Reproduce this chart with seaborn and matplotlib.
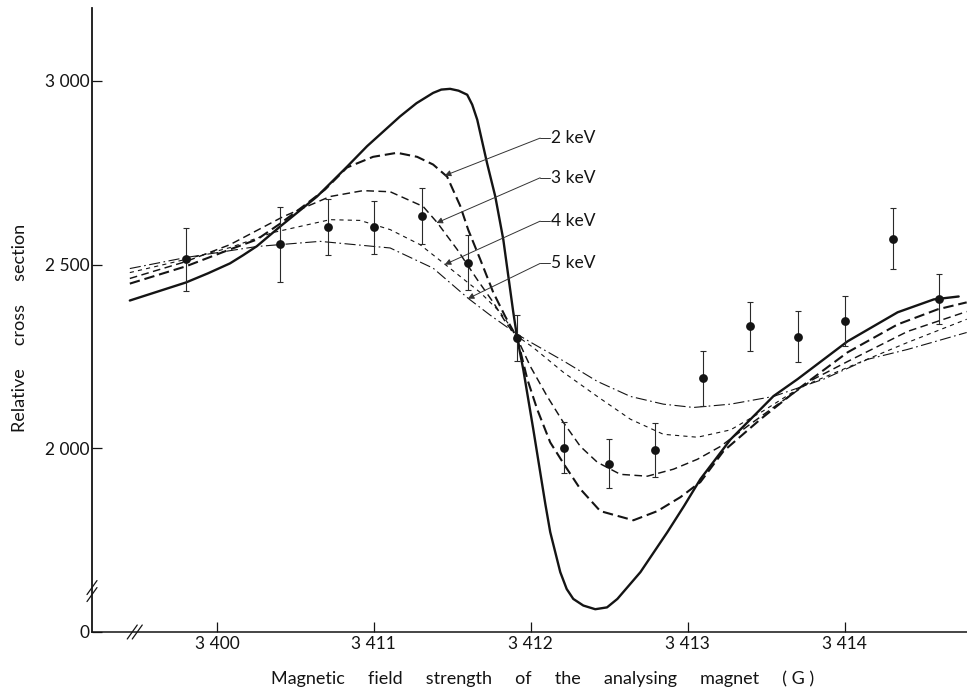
import matplotlib
matplotlib.use("Agg")
import matplotlib.pyplot as plt
import seaborn as sns

# ---------------- data ----------------
field_pts = [3409.80, 3410.40, 3410.71, 3411.00, 3411.31, 3411.60, 3411.91, 3412.21,
             3412.50, 3412.79, 3413.10, 3413.40, 3413.70, 3414.00, 3414.31, 3414.60]
sigma_pts = [2514, 2555, 2603, 2601, 2633, 2505, 2300, 2002,
             1958, 1995, 2190, 2332, 2304, 2346, 2570, 2405]
sigma_err = [85, 102, 76, 72, 76, 75, 62, 70, 66, 73, 75, 66, 69, 68, 83, 68]

x_solid = [3409.445, 3409.802, 3409.943, 3410.083, 3410.166, 3410.255, 3410.402, 3410.638,
           3410.829, 3410.957, 3411.167, 3411.272, 3411.378, 3411.430, 3411.486, 3411.540,
           3411.595, 3411.627, 3411.659, 3411.722, 3411.774, 3411.825, 3411.888, 3411.914,
           3411.952, 3412.016, 3412.093, 3412.124, 3412.188, 3412.229, 3412.271, 3412.335,
           3412.411, 3412.486, 3412.552, 3412.699, 3412.871, 3412.977, 3413.081, 3413.273,
           3413.445, 3413.547, 3413.700, 3414.019, 3414.338, 3414.568, 3414.727]
y_solid = [2402, 2451, 2476, 2503, 2525, 2550, 2603, 2685,
           2766, 2822, 2903, 2939, 2967, 2976, 2978, 2973,
           2962, 2935, 2894, 2775, 2685, 2568, 2372, 2299,
           2215, 2052, 1848, 1772, 1663, 1617, 1590, 1572,
           1562, 1567, 1590, 1663, 1772, 1843, 1916, 2024,
           2098, 2142, 2188, 2291, 2370, 2405, 2413]

x_2kev = [3409.445, 3409.802, 3410.083, 3410.255, 3410.402, 3410.549, 3410.689, 3410.829,
          3410.995, 3411.148, 3411.276, 3411.378, 3411.467, 3411.550, 3411.601, 3411.678,
          3411.761, 3411.837, 3411.914, 3411.978, 3412.041, 3412.124, 3412.220, 3412.316,
          3412.443, 3412.654, 3412.807, 3412.954, 3413.081, 3413.228, 3413.464, 3413.719,
          3414.019, 3414.338, 3414.593, 3414.778]
y_2kev = [2448, 2495, 2541, 2568, 2611, 2658, 2704, 2764,
          2793, 2804, 2793, 2772, 2739, 2660, 2595, 2514,
          2424, 2359, 2299, 2188, 2106, 2016, 1951, 1889,
          1829, 1804, 1829, 1867, 1908, 1992, 2079, 2166,
          2261, 2337, 2378, 2397]

x_3kev = [3409.445, 3409.802, 3410.083, 3410.421, 3410.721, 3410.931, 3411.104, 3411.314,
          3411.404, 3411.531, 3411.659, 3411.761, 3411.837, 3411.914, 3411.997, 3412.105,
          3412.207, 3412.316, 3412.424, 3412.571, 3412.743, 3412.909, 3413.062, 3413.209,
          3413.381, 3413.592, 3413.802, 3414.019, 3414.402, 3414.778]
y_3kev = [2462, 2508, 2554, 2630, 2685, 2701, 2698, 2658,
          2614, 2541, 2459, 2397, 2345, 2299, 2223, 2141,
          2071, 2005, 1962, 1929, 1924, 1943, 1970, 2005,
          2060, 2125, 2188, 2236, 2318, 2372]

x_4kev = [3409.445, 3409.802, 3410.083, 3410.357, 3410.721, 3410.912, 3411.104, 3411.295,
          3411.455, 3411.678, 3411.805, 3411.914, 3412.016, 3412.207, 3412.424, 3412.635,
          3412.845, 3413.062, 3413.273, 3413.483, 3413.719, 3414.019, 3414.402, 3414.778]
y_4kev = [2478, 2514, 2546, 2587, 2622, 2620, 2595, 2554,
          2500, 2424, 2370, 2305, 2274, 2207, 2141, 2079,
          2038, 2030, 2050, 2102, 2166, 2220, 2288, 2351]

x_5kev = [3409.445, 3409.802, 3410.255, 3410.657, 3411.104, 3411.378, 3411.601, 3411.742,
          3411.914, 3411.997, 3412.207, 3412.424, 3412.635, 3412.845, 3413.037, 3413.273,
          3413.547, 3413.866, 3414.147, 3414.402, 3414.778]
y_5kev = [2489, 2519, 2549, 2563, 2545, 2490, 2408, 2362,
          2310, 2289, 2238, 2182, 2141, 2120, 2111, 2120,
          2141, 2188, 2242, 2269, 2315]

tick_pos = [3410, 3411, 3412, 3413, 3414]
tick_labels = ["3 400", "3 411", "3 412", "3 413", "3 414"]
ytick_pos = [1500, 2000, 2500, 3000]
ytick_labels = ["0", "2 000", "2 500", "3 000"]

curve_labels = ["2 keV", "3 keV", "4 keV", "5 keV"]
label_text_xy = [(3412.13, 2844), (3412.13, 2736), (3412.13, 2618), (3412.13, 2503)]
label_bend_x = 3412.06
label_tip_xy = [(3411.452, 2742), (3411.399, 2613), (3411.452, 2500), (3411.599, 2407)]

# ---------------- style ----------------
sns.set_style("ticks")
plt.rcParams["font.family"] = ["Lato", "DejaVu Sans"]
plt.rcParams["font.weight"] = "normal"
plt.rcParams["lines.scale_dashes"] = False

fig = plt.figure(figsize=(9.67, 6.94), dpi=100)
ax = fig.add_axes([92 / 967, 62 / 694, 875 / 967, 624 / 694])

ink = "#141414"

curves = [
    (x_solid, y_solid, 1.7, "-"),
    (x_2kev, y_2kev, 1.5, (0, (7.5, 3.5))),
    (x_3kev, y_3kev, 1.05, (0, (5.5, 3.2))),
    (x_4kev, y_4kev, 0.8, (0, (3.0, 3.0))),
    (x_5kev, y_5kev, 0.8, (0, (8.0, 2.5, 1.2, 2.5))),
]
for xs, ys, lw, ls in curves:
    sns.lineplot(x=xs, y=ys, ax=ax, color=ink, linewidth=lw, linestyle=ls,
                 estimator=None, sort=False)

ax.errorbar(field_pts, sigma_pts, yerr=sigma_err, fmt="none", ecolor="#2a2a2a",
            elinewidth=0.8, capsize=2.2, capthick=0.8, zorder=4)
sns.scatterplot(x=field_pts, y=sigma_pts, ax=ax, color=ink, s=40,
                edgecolor=ink, linewidth=0, zorder=5)

for lab, (tx, ty), (px, py) in zip(curve_labels, label_text_xy, label_tip_xy):
    ax.text(tx, ty, lab, fontsize=12.5, va="center", ha="left", color=ink)
    ax.plot([label_bend_x, tx - 0.01], [ty, ty], color="#333", lw=0.7)
    ax.annotate("", xy=(px, py), xytext=(label_bend_x, ty),
                arrowprops=dict(arrowstyle="-|>", color="#333", lw=0.7,
                                mutation_scale=9, shrinkA=0, shrinkB=0))

ax.set_xlim(3409.204, 3414.78)
ax.set_ylim(1500, 3198)
ax.set_xticks(tick_pos)
ax.set_xticklabels(tick_labels)
ax.set_yticks(ytick_pos)
ax.set_yticklabels(ytick_labels)
ax.tick_params(axis="both", direction="in", length=7, width=0.9, labelsize=12.5,
               colors=ink)
ax.tick_params(axis="y", pad=2)
ax.tick_params(axis="x", pad=3)

for side in ["top", "right"]:
    ax.spines[side].set_visible(False)
ax.spines["left"].set_linewidth(1.3)
ax.spines["bottom"].set_linewidth(1.1)
ax.spines["left"].set_color(ink)
ax.spines["bottom"].set_color(ink)

ax.set_xlabel("Magnetic     field     strength     of     the     analysing     magnet     ( G )",
              fontsize=13, color=ink)
ax.xaxis.set_label_coords(0.515, -0.061)
ax.set_ylabel("Relative     cross     section", fontsize=13, color=ink)
ax.yaxis.set_label_coords(-0.073, 0.487)

# axis break marks
dx, dy = 5 / 875, 7 / 624
for off in (0.0, 7 / 624):
    yb = 0.060 + off
    ax.plot([-dx, dx], [yb - dy, yb + dy], transform=ax.transAxes, color=ink,
            lw=0.9, clip_on=False)
for off in (0.0, 5 / 875):
    xb = 0.046 + off
    ax.plot([xb - dx, xb + dx], [-dy, dy], transform=ax.transAxes, color=ink,
            lw=0.9, clip_on=False)

fig.savefig("out.png", dpi=100)
